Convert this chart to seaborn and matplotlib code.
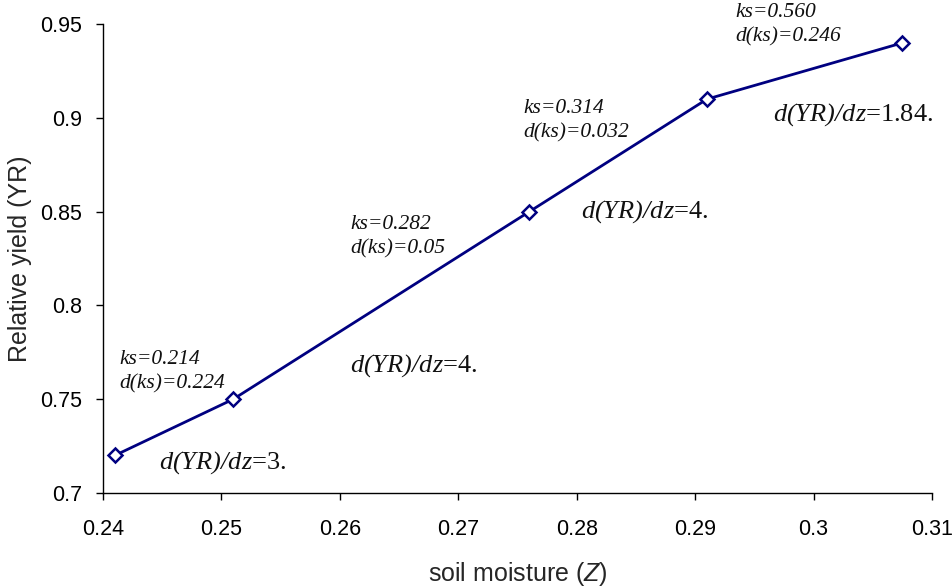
import matplotlib
matplotlib.use('Agg')
import matplotlib.pyplot as plt
import seaborn as sns
import pandas as pd
from matplotlib.ticker import FuncFormatter, MultipleLocator

soil_moisture = [0.241, 0.251, 0.276, 0.291, 0.3075]
rel_yield = [0.72, 0.75, 0.85, 0.91, 0.94]

ks_labels = ['ks=0.214\nd(ks)=0.224', 'ks=0.282\nd(ks)=0.05',
             'ks=0.314\nd(ks)=0.032', 'ks=0.560\nd(ks)=0.246']
ks_pos = [(0.2414, 0.776), (0.2609, 0.848), (0.2755, 0.910), (0.2934, 0.961)]

slope_labels = ['3.', '4.', '4.', '1.84.']
slope_pos = [(0.2447, 0.716), (0.2609, 0.768), (0.2804, 0.850), (0.2966, 0.9015)]

df = pd.DataFrame({'z': soil_moisture, 'yr': rel_yield})

sns.set_style('ticks')
plt.rcParams['font.family'] = ['Liberation Sans', 'DejaVu Sans']
plt.rcParams['mathtext.fontset'] = 'custom'
plt.rcParams['mathtext.it'] = 'Liberation Serif:italic'
plt.rcParams['mathtext.rm'] = 'Liberation Serif:italic'
plt.rcParams['mathtext.sf'] = 'Liberation Sans:italic'

fig, ax = plt.subplots(figsize=(9.53, 5.88), dpi=100)
fig.subplots_adjust(left=0.108, right=0.978, bottom=0.1616, top=0.959)

sns.lineplot(data=df, x='z', y='yr', ax=ax, color='#000080', linewidth=2,
             marker='D', markersize=7, markerfacecolor='white',
             markeredgecolor='#000080', markeredgewidth=1.8, clip_on=False)

ax.set_xlim(0.24, 0.31)
ax.set_ylim(0.7, 0.95)
ax.xaxis.set_major_locator(MultipleLocator(0.01))
ax.yaxis.set_major_locator(MultipleLocator(0.05))
fmt = FuncFormatter(lambda v, p: '%g' % round(v, 3))
ax.xaxis.set_major_formatter(fmt)
ax.yaxis.set_major_formatter(fmt)
ax.tick_params(direction='out', length=5, width=1, colors='black', labelsize=15.5)
ax.tick_params(axis='x', pad=14)
ax.tick_params(axis='y', pad=10)
sns.despine(ax=ax)
for s in ['left', 'bottom']:
    ax.spines[s].set_color('black')
    ax.spines[s].set_linewidth(1)

ax.set_xlabel(r'soil moisture ($\mathsf{Z}$)', fontsize=18, labelpad=14)
ax.set_ylabel('Relative yield (YR)', fontsize=18, labelpad=6)

for txt, (x, y) in zip(ks_labels, ks_pos):
    ax.text(x, y, txt, family='Liberation Serif', style='italic', fontsize=15.5,
            va='top', ha='left', linespacing=1.35, color='#111111')

for val, (x, y) in zip(slope_labels, slope_pos):
    ax.text(x, y, r'$\mathit{d(YR)/dz}$=' + val, family='Liberation Serif',
            fontsize=19, va='center', ha='left', color='#111111')

plt.savefig('out.png', dpi=100)
